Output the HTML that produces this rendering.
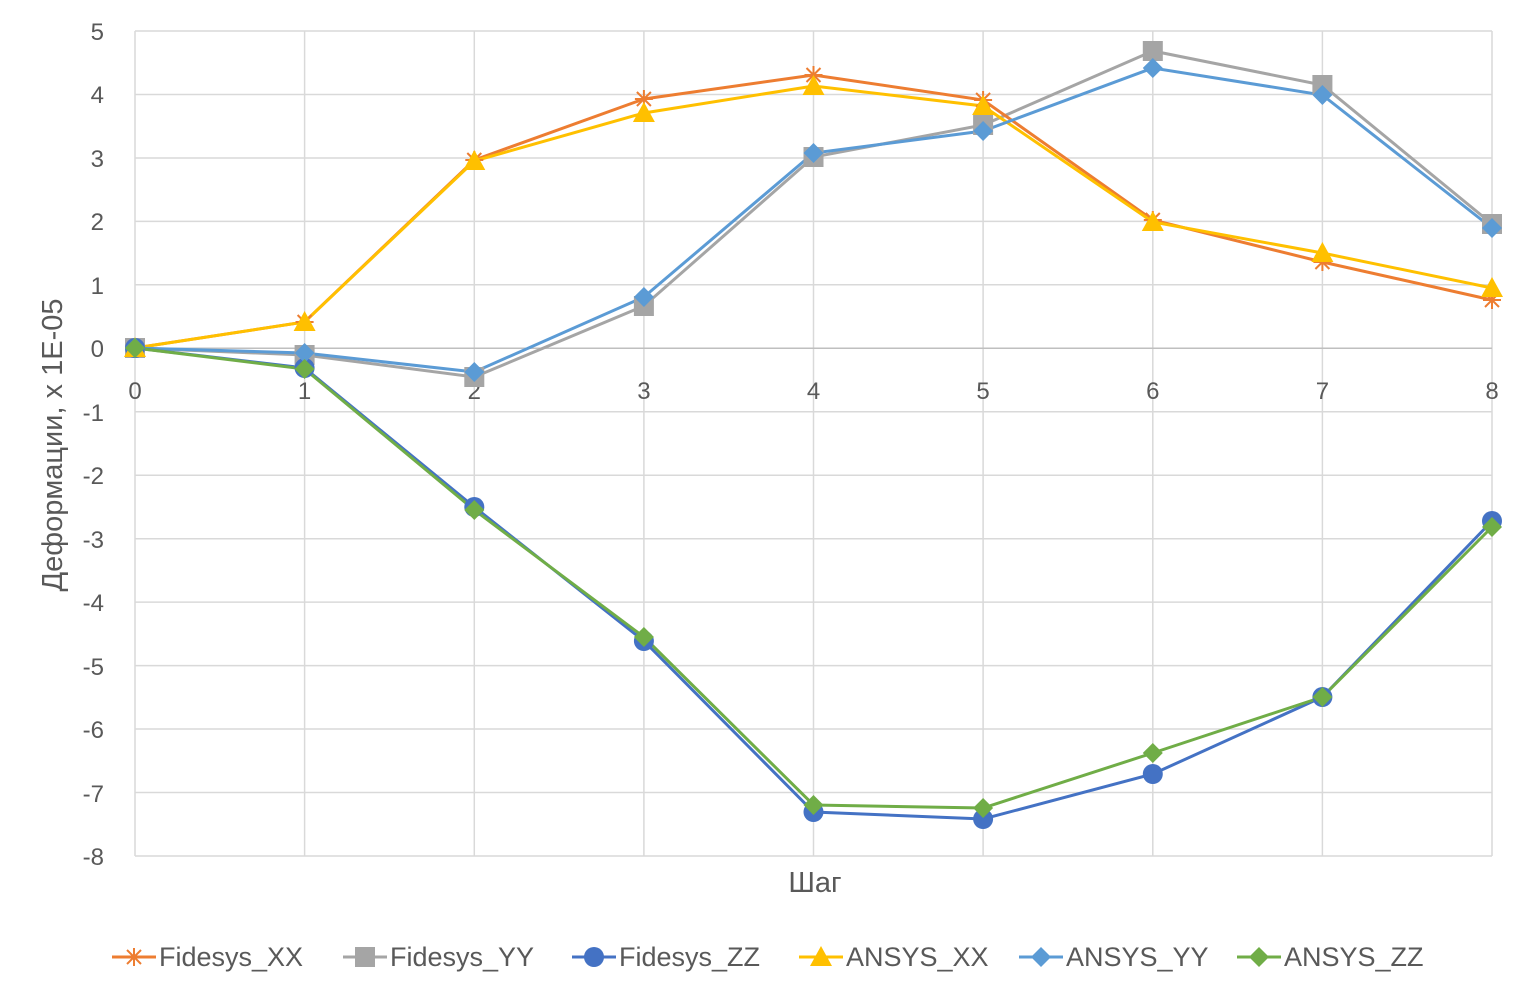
<!DOCTYPE html>
<html><head><meta charset="utf-8"><style>body{margin:0;background:#fff}svg{display:block}text{font-family:"Liberation Sans",sans-serif;fill:#595959}</style></head><body>
<svg width="1524" height="997" viewBox="0 0 1524 997" xmlns="http://www.w3.org/2000/svg">
<g stroke="#d9d9d9" stroke-width="1.5">
<line x1="135" y1="31" x2="1492" y2="31"/><line x1="135" y1="94.5" x2="1492" y2="94.5"/><line x1="135" y1="158" x2="1492" y2="158"/><line x1="135" y1="221.4" x2="1492" y2="221.4"/><line x1="135" y1="284.8" x2="1492" y2="284.8"/><line x1="135" y1="348.3" x2="1492" y2="348.3"/><line x1="135" y1="411.8" x2="1492" y2="411.8"/><line x1="135" y1="475.2" x2="1492" y2="475.2"/><line x1="135" y1="538.7" x2="1492" y2="538.7"/><line x1="135" y1="602.1" x2="1492" y2="602.1"/><line x1="135" y1="665.6" x2="1492" y2="665.6"/><line x1="135" y1="729" x2="1492" y2="729"/><line x1="135" y1="792.5" x2="1492" y2="792.5"/><line x1="135" y1="856" x2="1492" y2="856"/>
<line x1="135" y1="31" x2="135" y2="856"/><line x1="304.6" y1="31" x2="304.6" y2="856"/><line x1="474.3" y1="31" x2="474.3" y2="856"/><line x1="643.9" y1="31" x2="643.9" y2="856"/><line x1="813.5" y1="31" x2="813.5" y2="856"/><line x1="983.1" y1="31" x2="983.1" y2="856"/><line x1="1152.8" y1="31" x2="1152.8" y2="856"/><line x1="1322.4" y1="31" x2="1322.4" y2="856"/><line x1="1492" y1="31" x2="1492" y2="856"/>
</g>
<line x1="135" y1="348.3" x2="1492" y2="348.3" stroke="#bfbfbf" stroke-width="1.5"/>
<g font-size="24" text-anchor="end">
<text x="104" y="40">5</text><text x="104" y="103">4</text><text x="104" y="167">3</text><text x="104" y="230">2</text><text x="104" y="294">1</text><text x="104" y="357">0</text><text x="104" y="421">-1</text><text x="104" y="484">-2</text><text x="104" y="548">-3</text><text x="104" y="611">-4</text><text x="104" y="675">-5</text><text x="104" y="738">-6</text><text x="104" y="802">-7</text><text x="104" y="865">-8</text>
</g>
<g font-size="24" text-anchor="middle">
<text x="135" y="399">0</text><text x="304.6" y="399">1</text><text x="474.3" y="399">2</text><text x="643.9" y="399">3</text><text x="813.5" y="399">4</text><text x="983.1" y="399">5</text><text x="1152.8" y="399">6</text><text x="1322.4" y="399">7</text><text x="1492" y="399">8</text>
<text x="815" y="892" font-size="29">Шаг</text>
<text transform="translate(62,445) rotate(-90)" font-size="29">Деформации, х 1E-05</text>
</g>
<g fill="none" stroke-width="3">
<polyline stroke="#A5A5A5" points="135,348 304.6,355 474.3,377 643.9,306 813.5,157 983.1,125 1152.8,51 1322.4,85 1492,224"/>
<polyline stroke="#ED7D31" points="135,348 304.6,322 474.3,160 643.9,99 813.5,75 983.1,100 1152.8,220 1322.4,262 1492,300"/>
<polyline stroke="#FFC000" points="135,348 304.6,322 474.3,161 643.9,113 813.5,86 983.1,106 1152.8,222 1322.4,253 1492,288"/>
<polyline stroke="#5B9BD5" points="135,348 304.6,353 474.3,372 643.9,297 813.5,153 983.1,131 1152.8,68 1322.4,95 1492,228"/>
<polyline stroke="#4472C4" points="135,348 304.6,368 474.3,507 643.9,641 813.5,812 983.1,819 1152.8,774 1322.4,697 1492,521"/>
<polyline stroke="#70AD47" points="135,348 304.6,369 474.3,510 643.9,637 813.5,805 983.1,808 1152.8,753 1322.4,697 1492,527"/>
</g>
<defs>
<rect id="sq" x="-10" y="-10" width="20" height="20" fill="#A5A5A5"/>
<circle id="ci" r="10" fill="#4472C4"/>
<path id="tr" d="M0,-11 L11,9 L-11,9Z" fill="#FFC000"/>
<path id="dm" d="M0,-10 L10,0 L0,10 L-10,0Z" fill="#5B9BD5"/>
<path id="dg" d="M0,-10 L10,0 L0,10 L-10,0Z" fill="#70AD47"/>
<path id="as" d="M-9,0H9M0,-9V9M-7,-7L7,7M-7,7L7,-7" stroke="#ED7D31" stroke-width="2" fill="none"/>
</defs>
<g>
<use href="#sq" x="135" y="348"/><use href="#sq" x="304.6" y="355"/><use href="#sq" x="474.3" y="377"/><use href="#sq" x="643.9" y="306"/><use href="#sq" x="813.5" y="157"/><use href="#sq" x="983.1" y="125"/><use href="#sq" x="1152.8" y="51"/><use href="#sq" x="1322.4" y="85"/><use href="#sq" x="1492" y="224"/>
<use href="#as" x="135" y="348"/><use href="#as" x="304.6" y="322"/><use href="#as" x="474.3" y="160"/><use href="#as" x="643.9" y="99"/><use href="#as" x="813.5" y="75"/><use href="#as" x="983.1" y="100"/><use href="#as" x="1152.8" y="220"/><use href="#as" x="1322.4" y="262"/><use href="#as" x="1492" y="300"/>
<use href="#ci" x="135" y="348"/><use href="#ci" x="304.6" y="368"/><use href="#ci" x="474.3" y="507"/><use href="#ci" x="643.9" y="641"/><use href="#ci" x="813.5" y="812"/><use href="#ci" x="983.1" y="819"/><use href="#ci" x="1152.8" y="774"/><use href="#ci" x="1322.4" y="697"/><use href="#ci" x="1492" y="521"/>
<use href="#tr" x="135" y="348"/><use href="#tr" x="304.6" y="322"/><use href="#tr" x="474.3" y="161"/><use href="#tr" x="643.9" y="113"/><use href="#tr" x="813.5" y="86"/><use href="#tr" x="983.1" y="106"/><use href="#tr" x="1152.8" y="222"/><use href="#tr" x="1322.4" y="253"/><use href="#tr" x="1492" y="288"/>
<use href="#dm" x="135" y="348"/><use href="#dm" x="304.6" y="353"/><use href="#dm" x="474.3" y="372"/><use href="#dm" x="643.9" y="297"/><use href="#dm" x="813.5" y="153"/><use href="#dm" x="983.1" y="131"/><use href="#dm" x="1152.8" y="68"/><use href="#dm" x="1322.4" y="95"/><use href="#dm" x="1492" y="228"/>
<use href="#dg" x="135" y="348"/><use href="#dg" x="304.6" y="369"/><use href="#dg" x="474.3" y="510"/><use href="#dg" x="643.9" y="637"/><use href="#dg" x="813.5" y="805"/><use href="#dg" x="983.1" y="808"/><use href="#dg" x="1152.8" y="753"/><use href="#dg" x="1322.4" y="697"/><use href="#dg" x="1492" y="527"/>
</g>
<g font-size="27" stroke-width="3">
<line x1="112" y1="957" x2="156" y2="957" stroke="#ED7D31"/><use href="#as" x="134" y="957"/><text x="159" y="966">Fidesys_XX</text>
<line x1="343" y1="957" x2="387" y2="957" stroke="#A5A5A5"/><use href="#sq" x="365" y="957"/><text x="390" y="966">Fidesys_YY</text>
<line x1="572" y1="957" x2="616" y2="957" stroke="#4472C4"/><use href="#ci" x="594" y="957"/><text x="619" y="966">Fidesys_ZZ</text>
<line x1="799" y1="957" x2="843" y2="957" stroke="#FFC000"/><use href="#tr" x="821" y="957"/><text x="846" y="966">ANSYS_XX</text>
<line x1="1019" y1="957" x2="1063" y2="957" stroke="#5B9BD5"/><use href="#dm" x="1041" y="957"/><text x="1066" y="966">ANSYS_YY</text>
<line x1="1237" y1="957" x2="1281" y2="957" stroke="#70AD47"/><use href="#dg" x="1259" y="957"/><text x="1284" y="966">ANSYS_ZZ</text>
</g>
</svg>
</body></html>
